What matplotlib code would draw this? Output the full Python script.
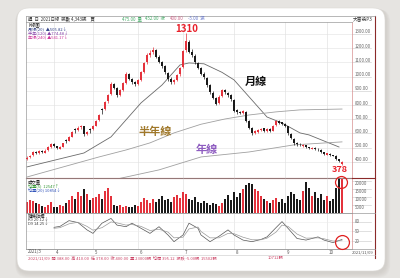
import matplotlib
matplotlib.use("Agg")
import matplotlib.pyplot as plt
import matplotlib.transforms as mtransforms
from matplotlib.patches import FancyBboxPatch
from matplotlib.lines import Line2D

plt.rcParams['font.family'] = ['Noto Sans CJK TC', 'DejaVu Sans']

# ---- data ----
opens = [420, 432, 448, 472, 460, 478, 466, 482, 508, 528,
         512, 494, 506, 555, 550, 578, 632, 628, 645, 650,
         598, 635, 630, 655, 692, 772, 770, 825, 875, 948,
         918, 872, 908, 958, 1018, 982, 962, 948, 978, 1035,
         1100, 1155, 1170, 1188, 1138, 1100, 1072, 1028, 982, 962,
         978, 1015, 1065, 1185, 1245, 1172, 1148, 1098, 1058, 1018,
         992, 938, 888, 848, 812, 862, 908, 888, 872, 838,
         762, 748, 742, 752, 688, 638, 602, 612, 622, 638,
         618, 632, 620, 658, 688, 678, 668, 652, 598, 562,
         532, 522, 515, 516, 503, 492, 498, 490, 486, 468,
         452, 458, 448, 442, 418, 388]
highs = [440, 452, 478, 480, 482, 485, 490, 512, 535, 532,
         515, 512, 536, 560, 582, 618, 640, 652, 662, 655,
         618, 640, 660, 698, 740, 780, 830, 880, 965, 958,
         925, 912, 962, 1035, 1025, 990, 968, 985, 1040, 1105,
         1165, 1185, 1210, 1195, 1150, 1110, 1080, 1035, 995, 985,
         1020, 1070, 1190, 1310, 1260, 1195, 1160, 1105, 1070, 1030,
         1000, 945, 900, 860, 870, 915, 912, 895, 880, 845,
         775, 760, 765, 758, 695, 645, 622, 632, 642, 640,
         638, 636, 662, 692, 695, 682, 672, 655, 602, 568,
         538, 535, 526, 520, 508, 506, 502, 496, 490, 472,
         466, 462, 452, 446, 422, 410]
lows = [415, 428, 445, 455, 458, 462, 462, 478, 500, 505,
        488, 490, 502, 530, 545, 572, 605, 618, 630, 585,
        590, 605, 622, 650, 688, 735, 762, 815, 870, 910,
        860, 865, 900, 950, 975, 950, 935, 940, 970, 1025,
        1090, 1140, 1160, 1130, 1095, 1060, 1020, 970, 945, 950,
        970, 1005, 1060, 1175, 1165, 1140, 1090, 1050, 1010, 985,
        930, 880, 840, 800, 805, 855, 880, 860, 830, 750,
        740, 735, 738, 680, 630, 590, 595, 605, 615, 612,
        612, 610, 615, 650, 668, 658, 648, 592, 558, 522,
        515, 512, 508, 498, 488, 488, 485, 480, 465, 450,
        448, 445, 440, 415, 398, 378]
closes = [430, 445, 470, 462, 475, 468, 480, 505, 525, 510,
          495, 505, 530, 548, 575, 610, 625, 640, 655, 595,
          610, 628, 650, 690, 730, 765, 820, 870, 950, 920,
          870, 905, 955, 1020, 985, 960, 945, 975, 1030, 1095,
          1150, 1165, 1190, 1140, 1105, 1075, 1030, 985, 960, 975,
          1010, 1060, 1180, 1250, 1175, 1150, 1100, 1060, 1020, 995,
          940, 890, 850, 810, 860, 905, 890, 870, 840, 760,
          750, 745, 755, 690, 640, 600, 615, 625, 635, 620,
          630, 618, 655, 685, 675, 665, 655, 600, 565, 530,
          525, 520, 518, 505, 495, 500, 492, 488, 470, 455,
          460, 450, 445, 420, 405, 400]
volumes = [7000, 8000, 7500, 6000, 5500, 4500, 4000, 5000, 7000,
           4000, 3500, 5000, 4500, 6000, 8000,
           11000, 9000, 13000, 10500, 15000, 12000,
           8000, 9500, 10000, 12000, 9000, 14000,
           16000, 11000, 5000, 4500,
           5000, 4000, 4500, 3500, 4000, 5000, 4500,
           7000, 9500, 8000, 6500, 9000, 7000, 8500,
           10500, 8000, 9000, 7000, 10000, 11500, 9500, 13000,
           12000, 9000, 8000, 10000, 7000, 6500,
           7500, 6000, 5000, 6500, 5500, 4500, 6000,
           9000, 11500, 8000, 13000, 10000,
           12500, 15000, 17500, 19000, 18500, 15000,
           14000, 11000, 9000, 7500, 6500,
           8000, 9500, 7000, 8500, 6000,
           10500, 13500, 12000, 9000, 8000,
           14000, 19500, 16000, 11000, 13000, 9500,
           12000, 8000, 10500, 7500, 9000,
           16000, 24000, 23000]

# moving averages (月線 / 半年線 / 年線), read at a few candles
ma20_idx = [0, 19, 28, 38, 45, 51, 54, 59, 65, 69, 80, 85, 91, 94, 104]
ma20 = [365, 463, 576, 815, 941, 1082, 1096, 1090, 1030, 977, 716, 674, 604, 590, 505]
ma120_idx = [0, 24, 33, 41, 49, 58, 66, 74, 83, 91, 105]
ma120 = [294, 435, 484, 534, 604, 665, 702, 730, 752, 766, 772]
ma240_idx = [30, 44, 58, 74, 89, 105]
ma240 = [280, 344, 435, 470, 520, 541]

# KD
kd_idx = [9, 11, 14, 17, 20, 22, 25, 28, 30, 33, 35, 38, 41, 44, 47, 49, 52, 54, 57, 58,
          61, 64, 67, 69, 72, 75, 78, 80, 83, 85, 87, 90, 93, 97, 99, 102, 105]
k_vals = [63, 66, 84, 78, 55, 44, 76, 91, 70, 65, 76, 60, 44, 65, 39, 18, 39, 76, 60, 39,
          18, 35, 55, 39, 23, 18, 25, 33, 62, 81, 60, 28, 23, 33, 23, 15, 25]
d_vals = [60, 62, 74, 79, 66, 54, 62, 80, 77, 70, 72, 66, 53, 57, 48, 30, 32, 58, 64, 50,
          30, 30, 44, 43, 32, 24, 24, 29, 48, 70, 66, 42, 29, 30, 27, 20, 21]

month_idx = [9, 22, 37, 52, 69, 86, 100]
month_labels = ['4', '5', '6', '7', '8', '9', '10']
price_ticks = [1300, 1200, 1100, 1000, 900, 800, 700, 600, 500, 400]
vol_ticks = [20000, 15000, 10000, 5000]
kd_ticks = [80, 50, 20]

RED = '#e4323c'
BLACK = '#1a1a1a'

W, H = 400, 278
fig = plt.figure(figsize=(4, 2.78), dpi=100)
fig.patch.set_facecolor('#e6e4e1')


def fx(px):
    return px / W


def fy(py):
    return 1 - py / H


def ptext(x, y, s, **kw):
    fig.text(fx(x), fy(y), s, **kw)


# card with soft shadow (drawn under everything)
inch = fig.dpi_scale_trans
for k in range(6, 0, -1):
    sh = FancyBboxPatch(((17 - k * 0.3) / 100, (278 - 273 - k * 0.8) / 100),
                        (369 + k * 1.0) / 100, (265 + k * 0.6) / 100,
                        boxstyle="round,pad=0,rounding_size=0.13",
                        transform=inch, facecolor='#b8b4ae', edgecolor='none',
                        alpha=0.07, zorder=-20)
    fig.patches.append(sh)
card = FancyBboxPatch((17 / 100, (278 - 271) / 100), 368 / 100, 263 / 100,
                      boxstyle="round,pad=0,rounding_size=0.12",
                      transform=inch, facecolor='white', edgecolor='#dddad6',
                      linewidth=0.4, zorder=-10)
fig.patches.append(card)

left, right = 26, 352
ax_p = fig.add_axes([fx(left), fy(178), fx(right - left), (178 - 22) / H])
ax_v = fig.add_axes([fx(left), fy(213), fx(right - left), (213 - 178) / H])
ax_k = fig.add_axes([fx(left), fy(249), fx(right - left), (249 - 213) / H])

x = list(range(len(closes)))
xlim = (-0.33, 108.33)

for ax in (ax_p, ax_v, ax_k):
    ax.set_xlim(*xlim)
    ax.set_xticks([])
    ax.set_yticks([])
    ax.set_facecolor('none')
    for s in ax.spines.values():
        s.set_color('#9a9a9a')
        s.set_linewidth(0.5)
    ax.spines['right'].set_color('#d89090')
    for m in month_idx:
        ax.axvline(m, color='#dcdcdc', lw=0.4, zorder=0)
ax_p.spines['bottom'].set_color('#8b2a2a')
ax_p.spines['bottom'].set_linewidth(0.8)

# price panel
ax_p.set_ylim(287, 1384)
for t in price_ticks:
    ax_p.axhline(t, color='#e2e2e2', lw=0.4, zorder=0)
cols = [RED if c >= o else BLACK for o, c in zip(opens, closes)]
ax_p.vlines(x, lows, highs, colors=cols, lw=0.5, zorder=2)
bottoms = [min(o, c) for o, c in zip(opens, closes)]
heights = [max(abs(c - o), 2) for o, c in zip(opens, closes)]
ax_p.bar(x, heights, bottom=bottoms, width=0.62, color=cols, linewidth=0, zorder=3)
ax_p.plot(ma20_idx, ma20, color='#6a6a6a', lw=0.6, zorder=1)
ax_p.plot(ma120_idx, ma120, color='#a0a0a0', lw=0.6, zorder=1)
ax_p.plot(ma240_idx, ma240, color='#a0a0a0', lw=0.6, zorder=1)

# volume panel
ax_v.set_ylim(0, 22000)
ax_v.bar(x, volumes, width=0.62, color=cols, linewidth=0, zorder=2)

# KD panel
ax_k.set_ylim(-5, 108)
for t in kd_ticks:
    ax_k.axhline(t, color='#ececec', lw=0.4, zorder=0)
ax_k.plot(kd_idx, k_vals, color='#555555', lw=0.5)
ax_k.plot(kd_idx, d_vals, color='#999999', lw=0.5)


# right label column
def right_labels(ax, ticks, fmt, dy):
    tr_line = ax.get_yaxis_transform()
    tr_txt = mtransforms.offset_copy(tr_line, fig=fig, x=0, y=dy, units='dots')
    for t in ticks:
        ax.plot([1.0, 1.058], [t, t], transform=tr_line, color='#c8c8c8',
                lw=0.4, clip_on=False)
        ax.text(1.008, t, fmt(t), transform=tr_txt, fontsize=3.2,
                color='#666666', va='center', ha='left')


right_labels(ax_p, price_ticks, lambda v: f"{v}.00", 2)
right_labels(ax_v, vol_ticks, lambda v: f"{v}", -2.5)
right_labels(ax_k, kd_ticks, lambda v: f"{v}", 0)

# frame pieces
fig.add_artist(Line2D([fx(375), fx(375)], [fy(16), fy(258)], color='#8b2a2a', lw=0.8))
fig.add_artist(Line2D([fx(352), fx(375)], [fy(178), fy(178)], color='#8b2a2a', lw=0.8))
fig.add_artist(Line2D([fx(352), fx(375)], [fy(213), fy(213)], color='#9a9a9a', lw=0.5))
fig.add_artist(Line2D([fx(26), fx(375)], [fy(249), fy(249)], color='#9a9a9a', lw=0.5))
fig.add_artist(Line2D([fx(26), fx(375)], [fy(255), fy(255)], color='#c8c8c8', lw=0.4))
fig.add_artist(Line2D([fx(26), fx(375)], [fy(16), fy(16)], color='#9a9a9a', lw=0.5))
fig.add_artist(Line2D([fx(26), fx(26)], [fy(16), fy(22)], color='#9a9a9a', lw=0.5))

# header row
ptext(28, 19, "週  日  2021日線  張數 4,343張    買", fontsize=3.2, color='#333333', va='center')
ptext(122, 19, "475.00  量", fontsize=3.2, color='#44aa66', va='center')
ptext(145, 19, "452.00  收", fontsize=3.2, color='#44aa66', va='center')
ptext(170, 19, "400.00", fontsize=3.2, color='#cc6688', va='center')
ptext(188, 19, "-5.00  漲", fontsize=3.2, color='#6677cc', va='center')
ptext(363, 19, "大富翁P3", fontsize=3.4, color='#333333', va='center', ha='center')

# legends inside panels
ptext(28, 25, "K線圖", fontsize=3.2, color='#222222', va='center')
ptext(28, 29, "月線(20)  ▲505.82↓", fontsize=3.0, color='#334488', va='center')
ptext(28, 33, "半年(120) ▲774.48↓", fontsize=3.0, color='#8844aa', va='center')
ptext(28, 37, "年線(240) ▲541.17↓", fontsize=3.0, color='#cc3399', va='center')
ptext(28, 181.5, "成交量", fontsize=3.2, color='#222222', va='center')
ptext(28, 185.5, "均量(5)  12547↑", fontsize=3.0, color='#3a9a3a', va='center')
ptext(28, 189.5, "均量(20) 10854↓", fontsize=3.0, color='#3355bb', va='center')
ptext(28, 216, "隨機指標", fontsize=3.2, color='#222222', va='center')
ptext(28, 220, "K9 20.12↓", fontsize=3.0, color='#444444', va='center')
ptext(28, 224, "D9 14.25↓", fontsize=3.0, color='#444444', va='center')

# date axis
ptext(28, 252, "2021/3", fontsize=3.2, color='#555555', va='center')
tr_date = mtransforms.blended_transform_factory(ax_k.transData, fig.transFigure)
for m, lab in zip(month_idx, month_labels):
    ax_k.text(m + 0.6, fy(252), lab, transform=tr_date, fontsize=3.2,
              color='#555555', va='center', clip_on=False)
ptext(363, 252, "2021/11/09", fontsize=3.0, color='#555555', va='center', ha='center')
ptext(28, 258, "2021/11/09  開 388.00  高 410.00  低 378.00  收 400.00  "
      "量 23000張  均價 395.12  漲跌 -5.00張  15502張", fontsize=3.0,
      color='#cc4466', va='center')
ptext(268, 258, "10712張", fontsize=3.0, color='#cc4466', va='center')

# annotations
ptext(187, 29, "1310", fontsize=7, color='#e8202a', fontweight='bold', ha='center', va='center')
ptext(256, 81, "月線", fontsize=8, color='#111111', fontweight='bold', ha='center', va='center')
ptext(155, 131, "半年線", fontsize=8, color='#a0782a', fontweight='bold', ha='center', va='center')
ptext(207, 150, "年線", fontsize=8, color='#8e5cc0', fontweight='bold', ha='center', va='center')
ptext(340, 170, "378", fontsize=6.5, color='#e8202a', fontweight='bold', ha='center', va='center')

for cx, cy, d in [(341, 182, 8.6), (342, 242, 10)]:
    fig.add_artist(Line2D([fx(cx)], [fy(cy)], marker='o', markersize=d,
                          markerfacecolor='none', markeredgecolor='#e02020',
                          markeredgewidth=0.9, transform=fig.transFigure))

fig.savefig("out.png", dpi=100, facecolor=fig.get_facecolor())
